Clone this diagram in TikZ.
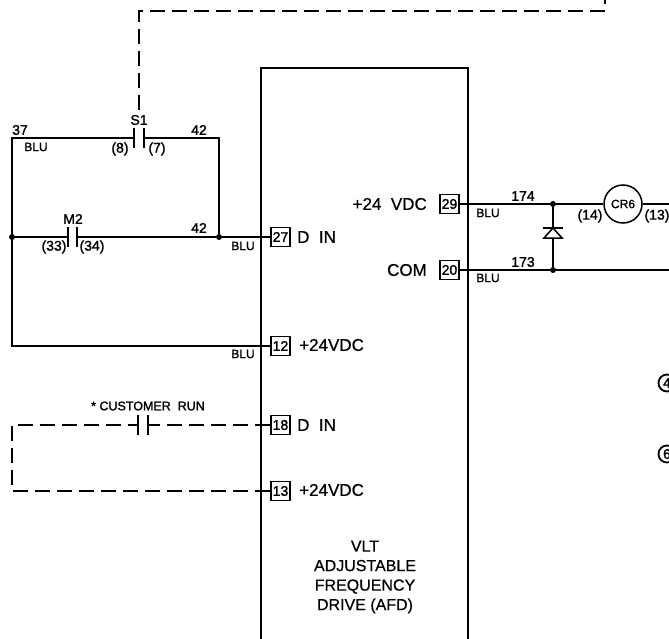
\documentclass[tikz,border=0pt]{standalone}
\usepackage{fontspec}
\setmainfont{Liberation Sans}
\newfontfamily\cadfont[FakeBold=1.5]{Liberation Sans}
\newfontfamily\bigfont[FakeBold=0.6]{Liberation Sans}
\usetikzlibrary{positioning, calc}
\newcommand{\fs}[1]{\fontsize{#1}{#1}\selectfont}
\tikzset{
  wire/.style={line width=1.5pt},
  dashwire/.style={line width=1.5pt, dash pattern=on 15pt off 7pt},
  term/.style={draw, line width=1.6pt, minimum size=19pt, inner sep=0pt, font=\cadfont\fs{14}},
  dot/.style={circle, fill, inner sep=0pt, minimum size=6pt},
  big/.style={inner sep=0pt, font=\bigfont\fs{17}},
  mid/.style={inner sep=0pt, font=\cadfont\fs{14}},
  blu/.style={inner sep=0pt, font=\cadfont\fs{12}},
  tiny/.style={inner sep=0pt, font=\cadfont\fs{12.5}}
}
\begin{document}
\begin{tikzpicture}[x=1pt,y=-1pt]
  \useasboundingbox (0,0) rectangle (669,639);
  \clip (0,0) rectangle (669,639);
  % drive
  \draw[wire] (261,650) |- (468,68) -- (468,650);
  \node[term] (t27) at (280.5,237) {27};
  \node[term] (t12) at (280.5,346) {12};
  \node[term] (t18) at (280.5,425) {18};
  \node[term] (t13) at (280.5,491) {13};
  \node[term] (t29) at (449.5,204) {29};
  \node[term] (t20) at (449.5,270) {20};
  \node[big,anchor=east] (vdc) at (427,204) {+24\ \ VDC};
  \node[big,anchor=east] (com) at (427,270) {COM};
  \node[big,anchor=west] (din1) at (297,237) {D\ \ IN};
  \node[big,anchor=west] (vdc1) at (299,345) {+24VDC};
  \node[big,anchor=west] (din2) at (297,425) {D\ \ IN};
  \node[big,anchor=west] (vdc2) at (299,490) {+24VDC};
  \node[big,align=center,font=\bigfont\fontsize{16}{19.5}\selectfont] (afd) at (365,577) {VLT\\ADJUSTABLE\\FREQUENCY\\DRIVE (AFD)};
  % left loop
  \coordinate (c37) at (12,138);
  \coordinate (c42) at (219,138);
  \coordinate (s1a) at (134,138);
  \coordinate (s1b) at (144,138);
  \coordinate (m2a) at (68,237);
  \coordinate (m2b) at (77,237);
  \coordinate (c12) at (12,346);
  \node[dot] (j1) at (12,237) {};
  \node[dot] (j2) at (219,237) {};
  \draw[wire] (s1a) -- (c37) -- (c12) -- (t12.west);
  \draw[wire] (s1b) -- (c42) -- (j2);
  \draw[wire] (j1) -- (m2a);
  \draw[wire] (m2b) -- (j2) -- (t27.west);
  \draw[wire] (s1a) ++(0,-10) -- ++(0,20);
  \draw[wire] (s1b) ++(0,-10) -- ++(0,20);
  \draw[wire] (m2a) ++(0,-10) -- ++(0,20);
  \draw[wire] (m2b) ++(0,-10) -- ++(0,20);
  \node[mid] (l37) at (20,130) {37};
  \node[blu] (b37) at (36,147) {BLU};
  \node[mid] (ls1) at (139,120) {S1};
  \node[mid] (l8) at (120,149) {(8)};
  \node[mid] (l7) at (157,149) {(7)};
  \node[mid] (l42a) at (199,130) {42};
  \node[mid] (lm2) at (73,219) {M2};
  \node[mid] (l33) at (54,247) {(33)};
  \node[mid] (l34) at (92,247) {(34)};
  \node[mid] (l42b) at (199,228) {42};
  \node[blu] (b27) at (243,246) {BLU};
  \node[blu] (b12) at (243,354) {BLU};
  % mechanical link
  \coordinate (s1up) at (139,110);
  \coordinate (s1fold) at (605,11);
  \coordinate (s1end) at (605,0);
  \draw[dashwire] (s1up) |- (s1fold) -- (s1end);
  % customer run
  \coordinate (ca) at (138,425);
  \coordinate (cb) at (148,425);
  \coordinate (cl) at (12,425);
  \coordinate (cd) at (12,491);
  \draw[dashwire] (t13.west) -- (cd) -- (cl) -- (ca);
  \draw[dashwire] (t18.west) -- (cb);
  \draw[wire] (ca) -- ++(-10,0);
  \draw[wire] (cb) -- ++(9,0);
  \draw[wire] (ca) ++(0,-10) -- ++(0,20);
  \draw[wire] (cb) ++(0,-10) -- ++(0,20);
  \node[tiny] (lrun) at (148,406) {*\ CUSTOMER\ \ RUN};
  % right side
  \node[dot] (j3) at (553,204) {};
  \node[dot] (j4) at (553,270) {};
  \node[draw,circle,line width=1.5pt,minimum size=38pt,inner sep=0pt,font=\cadfont\fs{12}] (cr6) at (623,204) {CR6};
  \coordinate (e1) at (669,204);
  \coordinate (e2) at (669,270);
  \coordinate (dtop) at (553,228);
  \coordinate (dbot) at (553,238);
  \draw[wire] (t29.east) -- (j3) -- (cr6.west);
  \draw[wire] (cr6.east) -- (e1);
  \draw[wire] (t20.east) -- (j4) -- (e2);
  \draw[wire] (j3) -- (dtop);
  \draw[wire] (dbot) -- (j4);
  \draw[wire] (dtop) ++(-10,0) -- ++(20,0);
  \draw[wire,line join=miter] (dtop) -- ($(dbot)+(-9,0)$) -- ($(dbot)+(9,0)$) -- cycle;
  \node[mid] (l174) at (523,196) {174};
  \node[mid] (l173) at (523,262) {173};
  \node[blu] (b29) at (488,213) {BLU};
  \node[blu] (b20) at (488,278) {BLU};
  \node[mid] (l14) at (590,216) {(14)};
  \node[mid] (l13) at (657,216) {(13)};
  % off to the edge
  \node[draw,circle,line width=1.8pt,minimum size=17pt,inner sep=0pt,font=\cadfont\fs{14}] (n4) at (667,383) {4};
  \node[draw,circle,line width=1.8pt,minimum size=17pt,inner sep=0pt,font=\cadfont\fs{14}] (n6) at (667,454) {6};
\end{tikzpicture}
\end{document}
